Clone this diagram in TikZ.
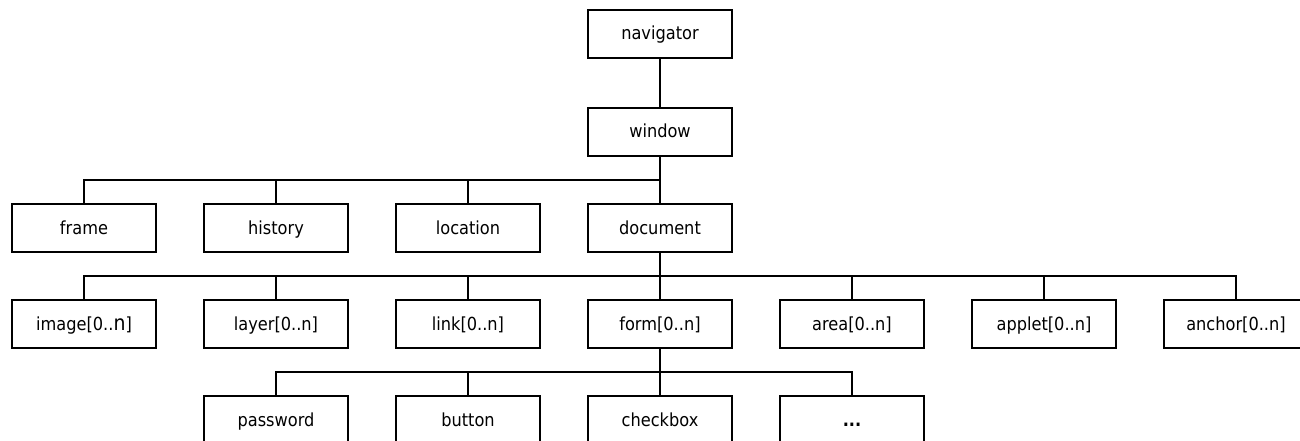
\documentclass[tikz,border=0pt]{standalone}
\usepackage{fontspec}
\setmainfont{DejaVu Sans Condensed}
\begin{document}
\begin{tikzpicture}[x=1pt,y=-1pt,
  box/.style={draw,line width=1.8pt,minimum width=144pt,minimum height=48pt,inner sep=0pt,text height=15pt,text depth=3pt,font=\fontsize{18}{20}\selectfont},
  conn/.style={line width=1.8pt}]
\useasboundingbox (0,0) rectangle (1300,441);
\node[box] (navigator) at (660,34) {navigator};
\node[box] (window) at (660,132) {window};
\node[box] (frame) at (84,228) {frame};
\node[box] (history) at (276,228) {history};
\node[box] (location) at (468,228) {location};
\node[box] (document) at (660,228) {document};
\node[box] (image) at (84,324) {image[0..{\fontsize{21}{20}\selectfont n}]};
\node[box] (layer) at (276,324) {layer[0..n]};
\node[box] (link) at (468,324) {link[0..n]};
\node[box] (form) at (660,324) {form[0..n]};
\node[box] (area) at (852,324) {area[0..n]};
\node[box] (applet) at (1044,324) {applet[0..n]};
\node[box] (anchor) at (1236,324) {anchor[0..n]};
\node[box] (password) at (276,420) {password};
\node[box] (button) at (468,420) {button};
\node[box] (checkbox) at (660,420) {checkbox};
\node[box] (dots) at (852,420) {\textbf{...}};
\coordinate (b1) at (660,180);
\coordinate (b2) at (660,276);
\coordinate (b3) at (660,372);
\draw[conn] (navigator) -- (window);
\draw[conn] (window) -- (document);
\draw[conn] (frame.north) |- (b1);
\draw[conn] (history.north) -- (history.north |- b1);
\draw[conn] (location.north) -- (location.north |- b1);
\draw[conn] (document) -- (form);
\draw[conn] (image.north) |- (b2) -| (anchor.north);
\draw[conn] (layer.north) -- (layer.north |- b2);
\draw[conn] (link.north) -- (link.north |- b2);
\draw[conn] (area.north) -- (area.north |- b2);
\draw[conn] (applet.north) -- (applet.north |- b2);
\draw[conn] (form) -- (checkbox);
\draw[conn] (password.north) |- (b3) -| (dots.north);
\draw[conn] (button.north) -- (button.north |- b3);
\end{tikzpicture}
\end{document}
